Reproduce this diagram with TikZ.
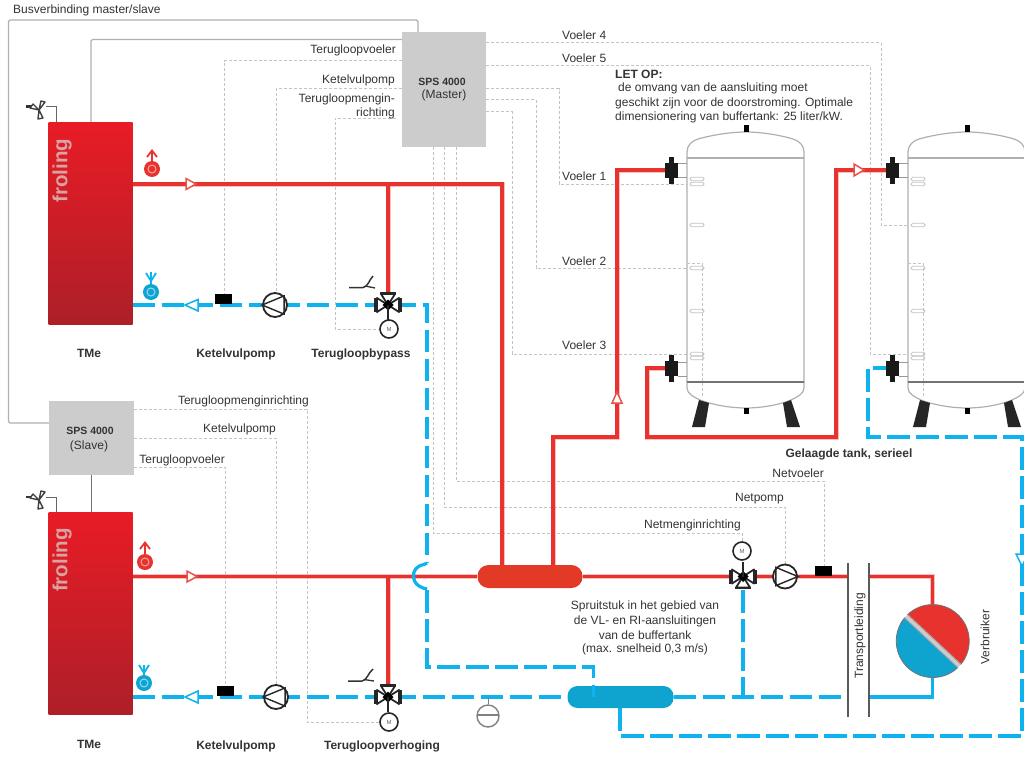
\documentclass[tikz,border=0pt]{standalone}
\usepackage{fontspec}
\setmainfont{Liberation Sans}
\usetikzlibrary{calc}
\definecolor{hotc}{HTML}{E8322D}
\definecolor{coldc}{HTML}{0DB2EE}
\definecolor{hdrc}{HTML}{E33A28}
\definecolor{hdrb}{HTML}{0FA3D0}
\definecolor{busc}{HTML}{AEB0B0}
\definecolor{sensc}{HTML}{C4C4C4}
\definecolor{boxc}{HTML}{CBCCCB}
\definecolor{txtc}{HTML}{333333}
\definecolor{boiltop}{HTML}{E81C26}
\definecolor{boilmid}{HTML}{CF1E26}
\definecolor{boilbot}{HTML}{AE1F28}
\definecolor{brandc}{HTML}{D9A3A3}
\tikzset{
  hot/.style={draw=hotc,line width=3.2pt,line join=miter,preaction={draw=hotc,opacity=.3,line width=5pt}},
  cold/.style={draw=coldc,line width=3.2pt,dash pattern=on 22.5pt off 6.5pt},
  coldsolid/.style={draw=coldc,line width=3.2pt},
  bus/.style={draw=busc,line width=1.3pt,rounded corners=1.5pt},
  sens/.style={draw=sensc,line width=1pt,dash pattern=on 3pt off 2pt},
  lbl/.style={font=\fontsize{12}{14}\selectfont,text=txtc,inner sep=0pt},
  blbl/.style={font=\bfseries\fontsize{12}{14}\selectfont,text=txtc,inner sep=0pt},
  spslbl/.style={font=\bfseries\fontsize{10.5}{12}\selectfont,text=txtc,inner sep=0pt},
  ctrl/.style={rectangle,fill=boxc,inner sep=0pt},
  boiler/.style={rectangle,inner sep=0pt,minimum width=84pt,top color=boiltop,middle color=boilmid,bottom color=boilbot},
  brand/.style={font=\bfseries\fontsize{20.5}{21}\selectfont,text=brandc,inner sep=0pt,rotate=90},
  pumpnode/.style={circle,draw=black!85,line width=1.8pt,fill=white,minimum size=24pt,inner sep=0pt},
  motornode/.style={circle,draw=black!85,line width=1.6pt,fill=white,minimum size=18pt,inner sep=0pt,font=\fontsize{6}{6}\selectfont,text=black!60},
  sensbox/.style={rectangle,fill=black,minimum width=17pt,minimum height=10pt,inner sep=0pt},
  flowhot/.style={draw=hotc!85,fill=white,line width=1.5pt,line join=miter},
  flowcold/.style={draw=coldc,fill=white,line width=1.5pt,line join=miter},
  mixer/.pic={
    \draw[black!85,line width=1.8pt,fill=white,line join=round] (0,0)--(-11,-7)--(-11,7)--cycle;
    \draw[black!85,line width=1.8pt,fill=white,line join=round] (0,0)--(11,-7)--(11,7)--cycle;
    \draw[black!85,line width=1.8pt,fill=white,line join=round] (0,0)--(-7,-11)--(7,-11)--cycle;
    \draw[black!85,line width=1.6pt] (-13,-7)--(-13,7) (13,-7)--(13,7) (-8,-12)--(8,-12);
    \fill[black] (0,-5.5)--(5.5,0)--(0,5.5)--(-5.5,0)--cycle;
    \draw[black!85,line width=1.2pt] (0,0)--(0,15);
  },
  tank/.pic={
    \draw[busc,line width=1.2pt,fill=white] (-59,388) -- (-59,152) .. controls (-59,145) and (-54,141) .. (-48,139) .. controls (-30,134) and (-12,132) .. (0,132) .. controls (12,132) and (30,134) .. (47,139) .. controls (53,141) and (58,145) .. (58,152) -- (58,388) .. controls (58,394) and (51,397) .. (45,400) .. controls (30,406) and (12,408) .. (0,408) .. controls (-12,408) and (-30,406) .. (-46,400) .. controls (-52,397) and (-59,394) .. (-59,388) -- cycle;
    \draw[busc,line width=2.6pt] (-59,158) -- (58,158);
    \draw[black!55,line width=1.3pt] (-59,382) -- (58,382);
    \fill[black] (-2.5,125) rectangle (2.5,132);
    \fill[black] (-2.5,408) rectangle (2.5,414);
    \fill[black!85] (-47,400)--(-37,403)--(-41,427)--(-54,427)--cycle;
    \fill[black!85] (37,403)--(45,400)--(54,427)--(41,427)--cycle;
    \foreach \yy in {163,177,362,376} \draw[black!40,line width=1pt] (-68,\yy)--(-59,\yy);
    \foreach \yy in {170,368} {
      \fill[black!90] (-81,\yy-7.5) rectangle (-68,\yy+7.5);
      \fill[black!90] (-77,\yy-13.5) rectangle (-72,\yy+13.5);
    }
    \foreach \yy in {179,184,225,268,311,354,358}
      \draw[sensc,line width=.8pt,rounded corners=1.5pt] (-56,\yy-1.7) rectangle (-42,\yy+1.7);
    \draw[sens] (-59,263) -- (-44,263) -- (-44,397);
  },
  safety/.pic={
    \fill[black!80] (-13,-4.5) rectangle (-6,-2);
    \draw[black!75,line width=1.4pt,fill=white,line join=round] (0,0)--(-9,-2)--(-6,-6)--cycle;
    \draw[black!75,line width=1.4pt,fill=white,line join=round] (0,0)--(6,-8)--(2,-9)--cycle;
    \draw[black!75,line width=1.4pt,fill=white,line join=round] (0,0)--(-1,9)--(4,8)--cycle;
  },
}
\begin{document}
\begin{tikzpicture}[x=1pt,y=-1pt]
\useasboundingbox (0,0) rectangle (1024,757);
\clip (0,0) rectangle (1024,757);
% ---- main named parts
\node[ctrl,minimum width=84pt,minimum height=115pt] (sm) at (444,89.5) {};
\node[ctrl,minimum width=85pt,minimum height=74pt] (ss) at (91.5,438) {};
\node[boiler,minimum height=202pt] (b1) at (90.5,223) {};
\node[boiler,minimum height=202pt] (b2) at (90.5,613) {};
\node[rectangle,rounded corners=11pt,fill=hdrc,minimum width=105pt,minimum height=23pt,inner sep=0pt] (hh) at (530,576.5) {};
\node[rectangle,rounded corners=10pt,fill=hdrb,minimum width=106pt,minimum height=22pt,inner sep=0pt] (hc) at (620.5,697) {};
\coordinate (va) at (388,305);
\coordinate (vb) at (388,697);
\coordinate (vc) at (743,576.5);
\coordinate (r1) at (502,184);
\coordinate (c1) at (427,305);
\coordinate (c2) at (427,667);
\coordinate (c3) at (593.5,667);
\coordinate (t1) at (848,576.5);
\coordinate (t2) at (869,576.5);
\coordinate (t3) at (848,697);
\coordinate (t4) at (869,697);
\coordinate (cons) at (932.7,641);
\coordinate (cnt) at (932.7,606);
\coordinate (cnb) at (932.7,676);
\coordinate (h1) at (553,437);
\coordinate (h2) at (617,437);
\coordinate (h3) at (617,170);
\coordinate (h4) at (665,170);
\coordinate (h5) at (647,368);
\coordinate (h6) at (647,437);
\coordinate (h7) at (836,437);
\coordinate (h8) at (836,170);
\coordinate (h9) at (886,170);
\coordinate (k1) at (620,736);
\coordinate (k2) at (1022,736);
\coordinate (k3) at (1022,437);
\coordinate (k4) at (868,437);
\coordinate (k5) at (868,368);
\coordinate (k6) at (886,368);
\coordinate (hA) at (665,368);
% ---- bus lines
\coordinate (bu1) at (8.5,20);
\coordinate (bu2) at (418,20);
\coordinate (bu3) at (91,39.5);
\draw[bus] (ss.west |- 0,423) -- (bu1 |- 0,423) -- (bu1) -- (bu2) -- (bu2 |- sm.north);
\draw[bus] (bu3 |- b1.north) -- (bu3) -- (bu3 -| sm.west);
\draw[black!55,line width=1.5pt] (ss.south) -- (ss.south |- b2.north);
% ---- sensor lines to master
\draw[sens] (sm.east |- 0,43) -- (881,43) -- (881,225.5) -- (918,225.5);
\draw[sens] (sm.east |- 0,66) -- (870,66) -- (870,354) -- (922,354);
\draw[sens] (sm.east |- 0,89) -- (559,89) -- (559,184) -- (700,184);
\draw[sens] (sm.east |- 0,100) -- (536,100) -- (536,268) -- (700,268);
\draw[sens] (sm.east |- 0,112) -- (512,112) -- (512,354) -- (700,354);
\draw[sens] (456,147) -- (456,481) -- (824,481) -- (824,566);
\draw[sens] (444,147) -- (444,507) -- (785,507) -- (785,565);
\draw[sens] (433,147) -- (433,533) -- (742,533) -- (742,543);
\draw[sens] (sm.west |- 0,61) -- (224,61) -- (224,295);
\draw[sens] (sm.west |- 0,89) -- (276,89) -- (276,295);
\draw[sens] (396,118) -- (335,118) -- (335,329) -- (380,329);
\draw[sens] (ss.east |- 0,409) -- (307,409) -- (307,722) -- (380,722);
\draw[sens] (ss.east |- 0,438) -- (276,438) -- (276,686);
\draw[sens] (ss.east |- 0,467) -- (225,467) -- (225,688);
% ---- tanks
\pic at (746,0) {tank};
\pic at (967,0) {tank};
% ---- pipes
\draw[hot] (b1.east |- r1) -- (r1) -- (r1 |- hh.north);
\draw[hot] (va |- r1) -- (va);
\draw[hot] (b2.east |- hh) -- (hh.west);
\draw[hot] (vb |- hh) -- (vb);
\draw[hot] (hh.east) -- (t1);
\draw[hot] (t2) -- (cons |- t2) -- (cnt);
\draw[hot] (h1 |- hh.north) -- (h1) -- (h2) -- (h3) -- (h4);
\draw[hot] (hA) -- (h5) -- (h6) -- (h7) -- (h8) -- (h9);
\draw[cold] (b1.east |- va) -- (va) -- (c1) -- (c1 |- 0,562);
\draw[coldsolid] (c1 |- 0,563) -- (424,564.5) .. controls (416,566) and (413,571) .. (413.5,577) .. controls (414,583) and (418,586) .. (423,588) -- (c1 |- 0,589);
\draw[cold] (c1 |- 0,590) -- (c2) -- (c3) -- (c3 |- hc);
\draw[cold] (b2.east |- vb) -- (hc.west);
\draw[cold] (hc.east) -- (t3);
\draw[cold] (vc |- 0,590) -- (vc |- t3);
\draw[coldsolid] (t4) -- (cons |- t4) -- (cnb);
\draw[cold] (k1 |- hc.south) -- (k1) -- (k2) -- (k3) -- (k4) -- (k5) -- (k6);
% ---- flow arrows
\draw[flowhot] (186,178.5)--(196,184)--(186,189.5)--cycle;
\draw[flowcold] (198,299.5)--(185,305)--(198,311)--cycle;
\draw[flowhot] (187,571)--(197,576.5)--(187,582)--cycle;
\draw[flowcold] (198,691)--(185,697)--(198,703)--cycle;
\draw[flowhot] (612,403)--(617,392)--(622,403)--cycle;
\draw[flowhot] (854,164)--(864,170)--(854,176)--cycle;
\draw[flowcold] (1016,554)--(1028,554)--(1022,566)--cycle;
% ---- pumps
\node[pumpnode] (pa) at (275,305) {};
\draw[black!85,line width=1.4pt] (pa.west) -- (pa.north east) -- (pa.south east) -- cycle;
\node[pumpnode] (pb) at (276,697) {};
\draw[black!85,line width=1.4pt] (pb.west) -- (pb.north east) -- (pb.south east) -- cycle;
\node[pumpnode] (pc) at (785,576.5) {};
\draw[black!85,line width=1.4pt] (pc.east) -- (pc.north west) -- (pc.south west) -- cycle;
% ---- temperature sensors
\node[sensbox] (sa) at (223.5,299) {};
\node[sensbox] (sb) at (225,691) {};
\node[sensbox] (sc) at (823.5,570.5) {};
% ---- mixers
\pic at (va) {mixer};
\pic at (vb) {mixer};
\pic[rotate=180] at (vc) {mixer};
\node[motornode] (ma) at (389,329) {M};
\node[motornode] (mb) at (389,722) {M};
\node[motornode] (mc) at (742,551) {M};
% ---- hand symbols
\draw[black!80,line width=1.5pt] (349,287.5) -- (363,287.5) .. controls (368,287) and (369,280) .. (373,276);
\draw[black!80,line width=1.3pt] (365,286) -- (375,288);
\draw[black!80,line width=1.5pt] (348,681) -- (362,681) .. controls (367,680.5) and (368,673) .. (373,669);
\draw[black!80,line width=1.3pt] (364,679.5) -- (374,681);
% ---- safety valves
\draw[black!60,line width=1pt] (56,122) -- (56,107) -- (46,107);
\pic at (39,110) {safety};
\draw[black!60,line width=1pt] (56,512) -- (56,497) -- (46,497);
\pic at (39,500) {safety};
% ---- boiler markers
\node[circle,fill=hotc,minimum size=16pt,inner sep=0pt] (ha) at (152,169) {};
\draw[white!55!hotc,line width=1pt] (ha) circle (4pt);
\draw[hotc,line width=1.8pt] (ha.north) -- (152,151) (147,157) -- (152,150.5) -- (157,157);
\node[circle,fill=hdrb,minimum size=16pt,inner sep=0pt] (ca) at (151,292) {};
\draw[white!55!coldc,line width=1pt] (ca) circle (4pt);
\draw[coldc,line width=1.8pt] (ca.north) -- (151,272) (151,281) -- (146,273) (151,281) -- (156,273);
\node[circle,fill=hotc,minimum size=16pt,inner sep=0pt] (hb) at (145,562) {};
\draw[white!55!hotc,line width=1pt] (hb) circle (4pt);
\draw[hotc,line width=1.8pt] (hb.north) -- (145,543) (140,549) -- (145,542.5) -- (150,549);
\node[circle,fill=hdrb,minimum size=16pt,inner sep=0pt] (cb) at (144,683) {};
\draw[white!55!coldc,line width=1pt] (cb) circle (4pt);
\draw[coldc,line width=1.8pt] (cb.north) -- (144,665) (144,673) -- (139,665) (144,673) -- (149,665);
% ---- expansion vessel
\node[circle,draw=black!50,line width=1.4pt,fill=white,minimum size=22pt,inner sep=0pt] (ev) at (488,716) {};
\draw[black!50,line width=1pt] (ev.north) -- (ev.north |- hc);
\draw[black!50,line width=1.2pt] ($(ev.west)+(1,-1)$) -- ($(ev.east)+(-1,-1)$);
% ---- transport lines
\draw[black!65,line width=1.8pt] (848,563) -- (848,717) (869,563) -- (869,717);
% ---- consumer
\begin{scope}[shift={(cons)},x=1pt,y=1pt,rotate=-43]
  \fill[black!20] (0,0) circle (36.5);
  \fill[hotc] (-36.4,2) arc[start angle=176.8,end angle=3.2,radius=36.5] -- cycle;
  \draw[black!55,line width=.8pt] (-36.4,2) arc[start angle=176.8,end angle=3.2,radius=36.5];
  \fill[hdrb] (-36.4,-2) arc[start angle=-176.8,end angle=-3.2,radius=36.5] -- cycle;
  \draw[black!55,line width=.8pt] (-36.4,-2) arc[start angle=-176.8,end angle=-3.2,radius=36.5];
  \draw[black!35,line width=.8pt] (-36.4,2.3) -- (36.4,2.3) (-36.4,-2.3) -- (36.4,-2.3);
\end{scope}
% ---- texts
\node[brand] (lf1) at (62,170.5) {froling};
\node[brand] (lf2) at (62,560) {froling};
\node[lbl,anchor=west] (t01) at (13,10.5) {Busverbinding master/slave};
\node[lbl,anchor=east] (t02) at (396,50.5) {Terugloopvoeler};
\node[lbl,anchor=east] (t03) at (395,80) {Ketelvulpomp};
\node[lbl,anchor=east] (t04) at (395,99) {Terugloopmengin-};
\node[lbl,anchor=east] (t05) at (395,113) {richting};
\node[spslbl] (t06) at (442,81.5) {SPS 4000};
\node[lbl] (t07) at (444,95) {(Master)};
\node[spslbl] (t08) at (90,430.5) {SPS 4000};
\node[lbl] (t09) at (89,446) {(Slave)};
\node[lbl,anchor=west] (t10) at (562,35) {Voeler 4};
\node[lbl,anchor=west] (t11) at (562,58) {Voeler 5};
\node[lbl,anchor=west] (t12) at (562,176) {Voeler 1};
\node[lbl,anchor=west] (t13) at (562,261) {Voeler 2};
\node[lbl,anchor=west] (t14) at (562,345) {Voeler 3};
\node[blbl,anchor=west] (t15) at (615,74) {LET OP:};
\node[lbl,anchor=west] (t16) at (618,88) {de omvang van de aansluiting moet};
\node[lbl,anchor=west] (t17) at (615,103) {geschikt zijn voor de doorstroming. Optimale};
\node[lbl,anchor=west] (t18) at (615,117) {dimensionering van buffertank: 25 liter/kW.};
\node[blbl] (t19) at (89,353) {TMe};
\node[blbl] (t20) at (236,354) {Ketelvulpomp};
\node[blbl] (t21) at (361,354) {Terugloopbypass};
\node[blbl] (t22) at (89,744) {TMe};
\node[blbl] (t23) at (236,746) {Ketelvulpomp};
\node[blbl] (t24) at (382,746) {Terugloopverhoging};
\node[blbl] (t25) at (849,454) {Gelaagde tank, serieel};
\node[lbl,anchor=east] (t26) at (824,473) {Netvoeler};
\node[lbl,anchor=east] (t27) at (784,499) {Netpomp};
\node[lbl,anchor=east] (t28) at (741,525) {Netmenginrichting};
\node[lbl,anchor=east] (t29) at (309,401) {Terugloopmenginrichting};
\node[lbl,anchor=east] (t30) at (276,429) {Ketelvulpomp};
\node[lbl,anchor=east] (t31) at (225,460) {Terugloopvoeler};
\node[lbl] (t32) at (645,606) {Spruitstuk in het gebied van};
\node[lbl] (t33) at (645,621) {de VL- en RI-aansluitingen};
\node[lbl] (t34) at (645,635) {van de buffertank};
\node[lbl] (t35) at (645,649) {(max. snelheid 0,3 m/s)};
\node[lbl,rotate=90] (t36) at (860,636) {Transportleiding};
\node[lbl,rotate=90] (t37) at (985,637) {Verbruiker};
\end{tikzpicture}
\end{document}
